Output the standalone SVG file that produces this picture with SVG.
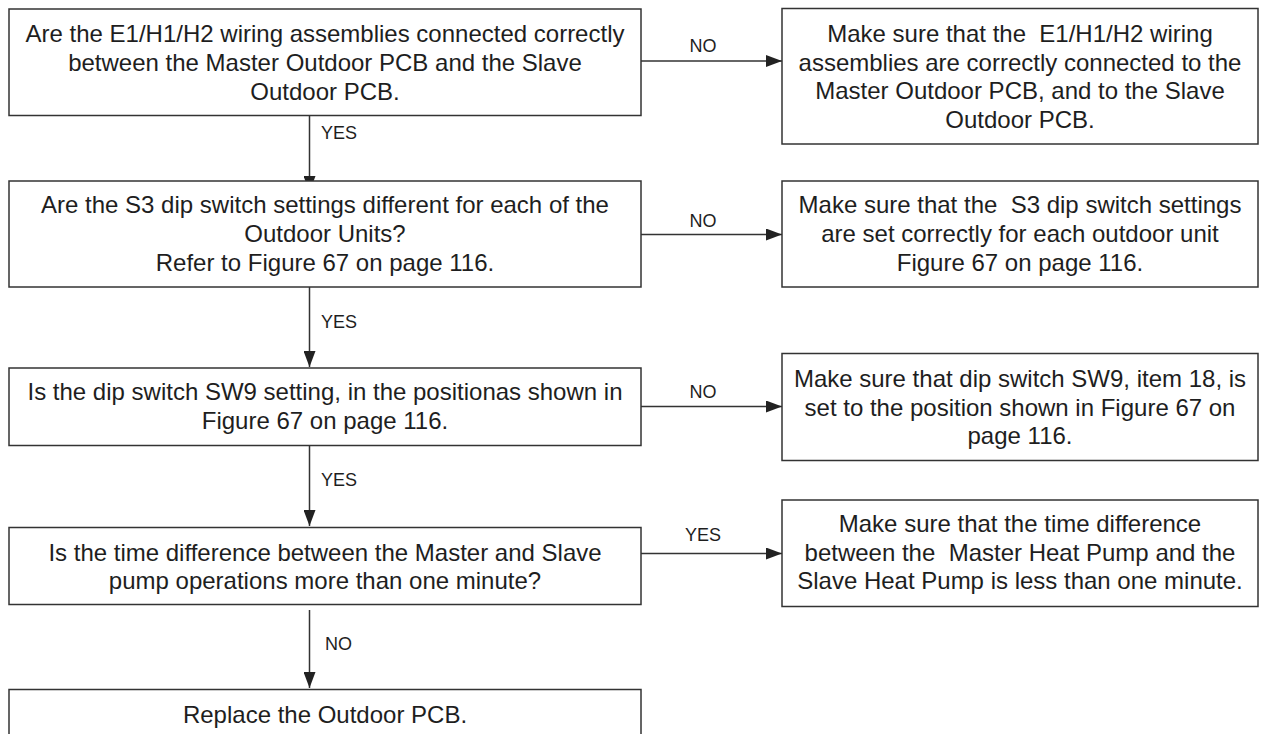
<svg xmlns="http://www.w3.org/2000/svg" width="1267" height="734" viewBox="0 0 1267 734">
<style>
.box{fill:#fff;stroke:#333;stroke-width:1.5}
.t{font-family:"Liberation Sans",Arial,sans-serif;font-size:24px;fill:#1e1e1e;text-anchor:middle;white-space:pre}
.lbl{font-family:"Liberation Sans",Arial,sans-serif;font-size:18px;fill:#1e1e1e;white-space:pre}
.c{stroke:#333;stroke-width:1.5;fill:none}
</style>
<defs>
<marker id="ah" markerUnits="userSpaceOnUse" markerWidth="17" markerHeight="12" refX="16" refY="6" orient="auto">
<path d="M0,0 L16,6 L0,12 Z" fill="#222"/>
</marker>
</defs>
<rect width="1267" height="734" fill="#fff"/>
<g id="connectors">
<line class="c" x1="309.5" y1="115" x2="309.5" y2="192" marker-end="url(#ah)"/>
<line class="c" x1="309.5" y1="287" x2="309.5" y2="367" marker-end="url(#ah)"/>
<line class="c" x1="309.5" y1="446" x2="309.5" y2="526" marker-end="url(#ah)"/>
<line class="c" x1="309.5" y1="610" x2="309.5" y2="688" marker-end="url(#ah)"/>
<line class="c" x1="641" y1="61" x2="782" y2="61" marker-end="url(#ah)"/>
<line class="c" x1="641" y1="234.5" x2="782" y2="234.5" marker-end="url(#ah)"/>
<line class="c" x1="641" y1="406.5" x2="782" y2="406.5" marker-end="url(#ah)"/>
<line class="c" x1="641" y1="553.5" x2="782" y2="553.5" marker-end="url(#ah)"/>
<text class="lbl" x="321" y="139">YES</text>
<text class="lbl" x="321" y="328">YES</text>
<text class="lbl" x="321" y="486">YES</text>
<text class="lbl" x="325" y="650">NO</text>
<text class="lbl" x="703" y="52" text-anchor="middle">NO</text>
<text class="lbl" x="703" y="227" text-anchor="middle">NO</text>
<text class="lbl" x="703" y="398" text-anchor="middle">NO</text>
<text class="lbl" x="703" y="541" text-anchor="middle">YES</text>
</g>
<g id="q1">
<rect class="box" x="9" y="9" width="632" height="106.5"/>
<text class="t" x="325" y="41.5">Are the E1/H1/H2 wiring assemblies connected correctly</text>
<text class="t" x="325" y="71">between the Master Outdoor PCB and the Slave</text>
<text class="t" x="325" y="100">Outdoor PCB.</text>
</g>
<g id="a1">
<rect class="box" x="782" y="8.5" width="476" height="135.5"/>
<text class="t" x="1020" y="41.5">Make sure that the  E1/H1/H2 wiring</text>
<text class="t" x="1020" y="70.5">assemblies are correctly connected to the</text>
<text class="t" x="1020" y="99">Master Outdoor PCB, and to the Slave</text>
<text class="t" x="1020" y="128">Outdoor PCB.</text>
</g>
<g id="q2">
<rect class="box" x="9" y="181" width="632" height="106"/>
<text class="t" x="325" y="213">Are the S3 dip switch settings different for each of the</text>
<text class="t" x="325" y="242">Outdoor Units?</text>
<text class="t" x="325" y="271">Refer to Figure 67 on page 116.</text>
</g>
<g id="a2">
<rect class="box" x="782" y="181" width="476" height="106"/>
<text class="t" x="1020" y="213">Make sure that the  S3 dip switch settings</text>
<text class="t" x="1020" y="242">are set correctly for each outdoor unit</text>
<text class="t" x="1020" y="271">Figure 67 on page 116.</text>
</g>
<g id="q3">
<rect class="box" x="9" y="368" width="632" height="77.5"/>
<text class="t" x="325" y="400">Is the dip switch SW9 setting, in the positionas shown in</text>
<text class="t" x="325" y="429">Figure 67 on page 116.</text>
</g>
<g id="a3">
<rect class="box" x="782" y="353.5" width="476" height="107"/>
<text class="t" x="1020" y="386.5">Make sure that dip switch SW9, item 18, is</text>
<text class="t" x="1020" y="415.5">set to the position shown in Figure 67 on</text>
<text class="t" x="1020" y="444">page 116.</text>
</g>
<g id="q4">
<rect class="box" x="9" y="527.5" width="632" height="77"/>
<text class="t" x="325" y="560.5">Is the time difference between the Master and Slave</text>
<text class="t" x="325" y="589">pump operations more than one minute?</text>
</g>
<g id="a4">
<rect class="box" x="782" y="500" width="476" height="106.5"/>
<text class="t" x="1020" y="532">Make sure that the time difference</text>
<text class="t" x="1020" y="560.5">between the  Master Heat Pump and the</text>
<text class="t" x="1020" y="588.5">Slave Heat Pump is less than one minute.</text>
</g>
<g id="end">
<rect class="box" x="9" y="689.5" width="632" height="60"/>
<text class="t" x="325" y="722.5">Replace the Outdoor PCB.</text>
</g>
</svg>
